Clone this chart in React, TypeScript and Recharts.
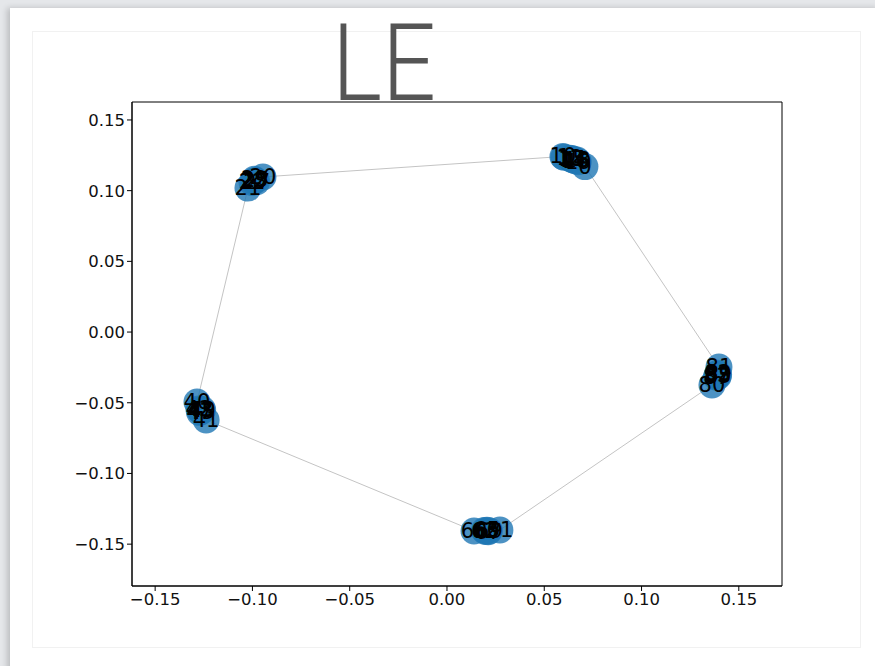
import React from 'react';
import { ScatterChart, Scatter, XAxis, YAxis, ReferenceArea } from 'recharts';

// node positions, grouped by cluster
const clusterA = [
  { id: '10', x: 0.0596, y: 0.1242 },
  { id: '1', x: 0.0601, y: 0.1236 },
  { id: '12', x: 0.0632, y: 0.1230 },
  { id: '13', x: 0.0640, y: 0.1222 },
  { id: '14', x: 0.0650, y: 0.1218 },
  { id: '15', x: 0.0645, y: 0.1226 },
  { id: '16', x: 0.0660, y: 0.1212 },
  { id: '18', x: 0.0668, y: 0.1216 },
  { id: '19', x: 0.0675, y: 0.1204 },
  { id: '0', x: 0.0709, y: 0.1170 },
];
const clusterB = [
  { id: '21', x: -0.1023, y: 0.1018 },
  { id: '22', x: -0.1002, y: 0.1058 },
  { id: '23', x: -0.0995, y: 0.1066 },
  { id: '25', x: -0.0985, y: 0.1072 },
  { id: '27', x: -0.0978, y: 0.1064 },
  { id: '29', x: -0.0990, y: 0.1080 },
  { id: '20', x: -0.0946, y: 0.1097 },
];
const clusterC = [
  { id: '40', x: -0.1285, y: -0.0495 },
  { id: '42', x: -0.1275, y: -0.0545 },
  { id: '43', x: -0.1268, y: -0.0552 },
  { id: '45', x: -0.1262, y: -0.0562 },
  { id: '47', x: -0.1272, y: -0.0568 },
  { id: '49', x: -0.1256, y: -0.0548 },
  { id: '41', x: -0.1238, y: -0.0622 },
];
const clusterD = [
  { id: '60', x: 0.0139, y: -0.1407 },
  { id: '62', x: 0.0192, y: -0.1404 },
  { id: '63', x: 0.0198, y: -0.1410 },
  { id: '65', x: 0.0205, y: -0.1402 },
  { id: '67', x: 0.0212, y: -0.1412 },
  { id: '69', x: 0.0218, y: -0.1405 },
  { id: '61', x: 0.0272, y: -0.1400 },
];
const clusterE = [
  { id: '81', x: 0.1398, y: -0.0248 },
  { id: '82', x: 0.1392, y: -0.0292 },
  { id: '83', x: 0.1388, y: -0.0305 },
  { id: '85', x: 0.1394, y: -0.0314 },
  { id: '87', x: 0.1385, y: -0.0320 },
  { id: '89', x: 0.1396, y: -0.0300 },
  { id: '80', x: 0.1362, y: -0.0375 },
];

// edges between clusters (pairs of node ids)
const edgePairs = [
  ['10', '20'],
  ['21', '40'],
  ['41', '60'],
  ['61', '80'],
  ['81', '0'],
];

const xTicks = [-0.15, -0.1, -0.05, 0, 0.05, 0.1, 0.15];
const yTicks = [-0.15, -0.1, -0.05, 0, 0.05, 0.1, 0.15];
const xDomain = [-0.1619, 0.1722];
const yDomain = [-0.1796, 0.1627];

const nodes = [...clusterA, ...clusterB, ...clusterC, ...clusterD, ...clusterE];
const byId: Record<string, { id: string; x: number; y: number }> = {};
nodes.forEach((n) => (byId[n.id] = n));
const edges = edgePairs.map(([a, b]) => [byId[a], byId[b]]);

const fmt = (v: number) => (v < 0 ? '\u2212' : '') + Math.abs(v).toFixed(2);
const tickStyle = { fill: '#111', fontSize: 16.5, fontFamily: 'DejaVu Sans' };

const noDot = () => <g />;
const nodeDot = (p: any) => (
  <circle cx={p.cx} cy={p.cy} r={13.5} fill="#1f77b4" fillOpacity={0.8} />
);
const nodeLabel = (p: any) => (
  <text
    x={p.cx}
    y={p.cy}
    textAnchor="middle"
    dominantBaseline="central"
    fontSize={21}
    fontFamily="DejaVu Sans"
    fill="#000"
  >
    {p.payload.id}
  </text>
);

export default function App() {
  return (
    <div style={{ position: 'absolute', left: 0, top: 0, width: 875, height: 666, background: '#e5e7ea', overflow: 'hidden' }}>
      <div
        style={{
          position: 'absolute',
          left: 10,
          top: 8,
          width: 870,
          height: 670,
          background: '#fff',
          boxShadow: '-3px 0 6px rgba(0,0,0,0.18)',
        }}
      />
      <div
        style={{
          position: 'absolute',
          left: 32,
          top: 31,
          width: 827,
          height: 615,
          border: '1.5px solid #f1f1f1',
        }}
      />
      <svg style={{ position: 'absolute', left: 0, top: 0 }} width={875} height={110}>
        <text
          x={332}
          y={100}
          fontSize={108}
          fontFamily="Roboto"
          fontWeight={300}
          fill="#555"
          textLength={104}
          lengthAdjust="spacingAndGlyphs"
        >
          LE
        </text>
      </svg>
      <div style={{ position: 'absolute', left: 0, top: 0 }}>
        <ScatterChart width={875} height={666} margin={{ top: 102, right: 93, bottom: 50, left: 62 }}>
          <XAxis
            type="number"
            dataKey="x"
            domain={xDomain}
            ticks={xTicks}
            allowDataOverflow
            tickFormatter={fmt}
            stroke="#000"
            tick={tickStyle}
            tickSize={5}
            height={30}
          />
          <YAxis
            type="number"
            dataKey="y"
            domain={yDomain}
            ticks={yTicks}
            allowDataOverflow
            tickFormatter={fmt}
            stroke="#000"
            tick={tickStyle}
            tickSize={5}
            width={70}
          />
          {edges.map((e, i) => (
            <Scatter
              key={'e' + i}
              data={e}
              line={{ stroke: '#c4c4c4', strokeWidth: 1 }}
              shape={noDot}
              isAnimationActive={false}
            />
          ))}
          <Scatter data={nodes} shape={nodeDot} isAnimationActive={false} />
          <Scatter data={nodes} shape={nodeLabel} isAnimationActive={false} />
          <ReferenceArea
            x1={xDomain[0]}
            x2={xDomain[1]}
            y1={yDomain[0]}
            y2={yDomain[1]}
            fill="none"
            stroke="#000"
            strokeWidth={1}
          />
        </ScatterChart>
      </div>
    </div>
  );
}
